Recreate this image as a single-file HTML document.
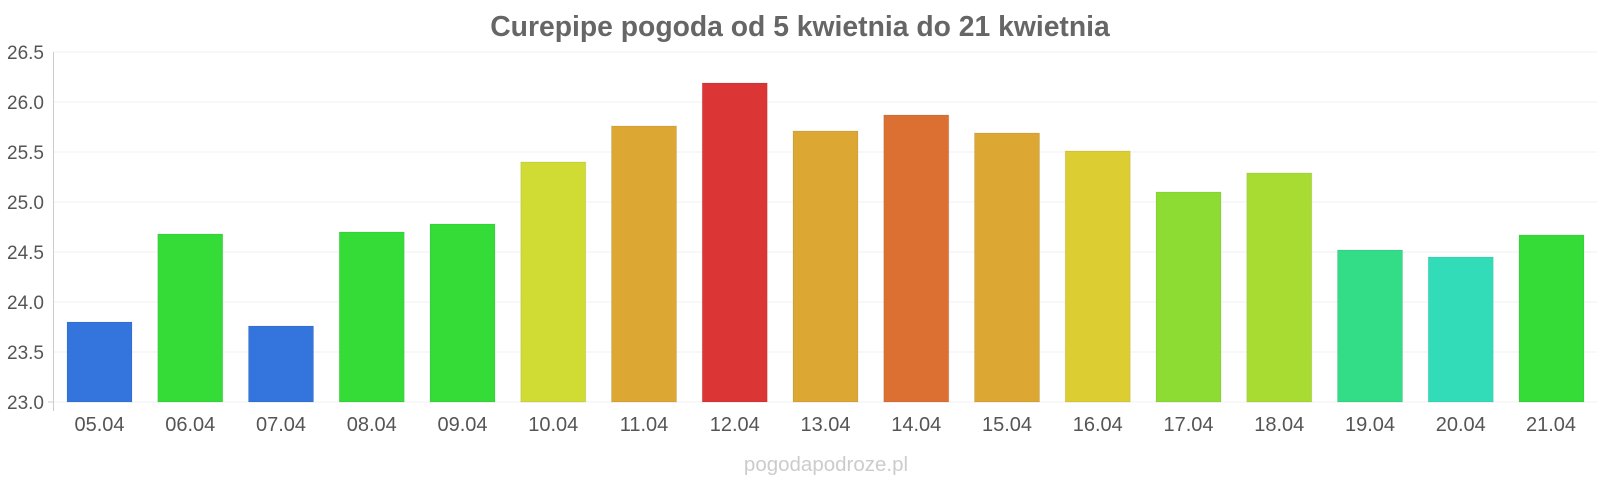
<!DOCTYPE html>
<html><head><meta charset="utf-8"><style>body{margin:0;background:#fff}svg{display:block}</style></head>
<body>
<svg width="1600" height="480" xmlns="http://www.w3.org/2000/svg" font-family="Liberation Sans, sans-serif">
<rect width="1600" height="480" fill="#fff"/>
<text x="800" y="36" text-anchor="middle" font-size="28.3" font-weight="bold" fill="#666">Curepipe pogoda od 5 kwietnia do 21 kwietnia</text>
<g stroke="#f2f2f2" stroke-width="1">
<line x1="53" x2="1597" y1="52" y2="52"/><line x1="53" x2="1597" y1="102" y2="102"/><line x1="53" x2="1597" y1="152" y2="152"/><line x1="53" x2="1597" y1="202" y2="202"/><line x1="53" x2="1597" y1="252" y2="252"/><line x1="53" x2="1597" y1="302" y2="302"/><line x1="53" x2="1597" y1="352" y2="352"/><line x1="53" x2="1597" y1="402" y2="402"/>
</g>
<line x1="53.5" x2="53.5" y1="52" y2="411" stroke="#ccc"/>
<line x1="48" x2="53" y1="402" y2="402" stroke="#ccc"/>
<g font-size="19" fill="#555" text-anchor="end">
<text x="44" y="59">26.5</text><text x="44" y="109">26.0</text><text x="44" y="159">25.5</text><text x="44" y="209">25.0</text><text x="44" y="259">24.5</text><text x="44" y="309">24.0</text><text x="44" y="359">23.5</text><text x="44" y="409">23.0</text>
</g>
<g stroke="rgba(0,0,0,0.08)">
<rect x="67" y="322" width="65" height="80" fill="#3375dc"/>
<rect x="157.75" y="234" width="65" height="168" fill="#35dc38"/>
<rect x="248.5" y="326" width="65" height="76" fill="#3375dc"/>
<rect x="339.25" y="232" width="65" height="170" fill="#35dc38"/>
<rect x="430" y="224" width="65" height="178" fill="#35dc38"/>
<rect x="520.75" y="162" width="65" height="240" fill="#d0dc33"/>
<rect x="611.5" y="126" width="65" height="276" fill="#dca833"/>
<rect x="702.25" y="83" width="65" height="319" fill="#dc3535"/>
<rect x="793" y="131" width="65" height="271" fill="#dca833"/>
<rect x="883.75" y="115" width="65" height="287" fill="#dc7033"/>
<rect x="974.5" y="133" width="65" height="269" fill="#dca833"/>
<rect x="1065.25" y="151" width="65" height="251" fill="#dccd33"/>
<rect x="1156" y="192" width="65" height="210" fill="#8cdc33"/>
<rect x="1246.75" y="173" width="65" height="229" fill="#a8dc33"/>
<rect x="1337.5" y="250" width="65" height="152" fill="#33dc87"/>
<rect x="1428.25" y="257" width="65" height="145" fill="#33dcb8"/>
<rect x="1519" y="235" width="65" height="167" fill="#35dc38"/>
</g>
<g font-size="20" fill="#555" text-anchor="middle">
<text x="99.5" y="431">05.04</text><text x="190.25" y="431">06.04</text><text x="281" y="431">07.04</text><text x="371.75" y="431">08.04</text><text x="462.5" y="431">09.04</text><text x="553.25" y="431">10.04</text><text x="644" y="431">11.04</text><text x="734.75" y="431">12.04</text><text x="825.5" y="431">13.04</text><text x="916.25" y="431">14.04</text><text x="1007" y="431">15.04</text><text x="1097.75" y="431">16.04</text><text x="1188.5" y="431">17.04</text><text x="1279.25" y="431">18.04</text><text x="1370" y="431">19.04</text><text x="1460.75" y="431">20.04</text><text x="1551" y="431">21.04</text>
</g>
<text x="826" y="471" text-anchor="middle" font-size="20.5" fill="#ccc">pogodapodroze.pl</text>
</svg>
</body></html>
